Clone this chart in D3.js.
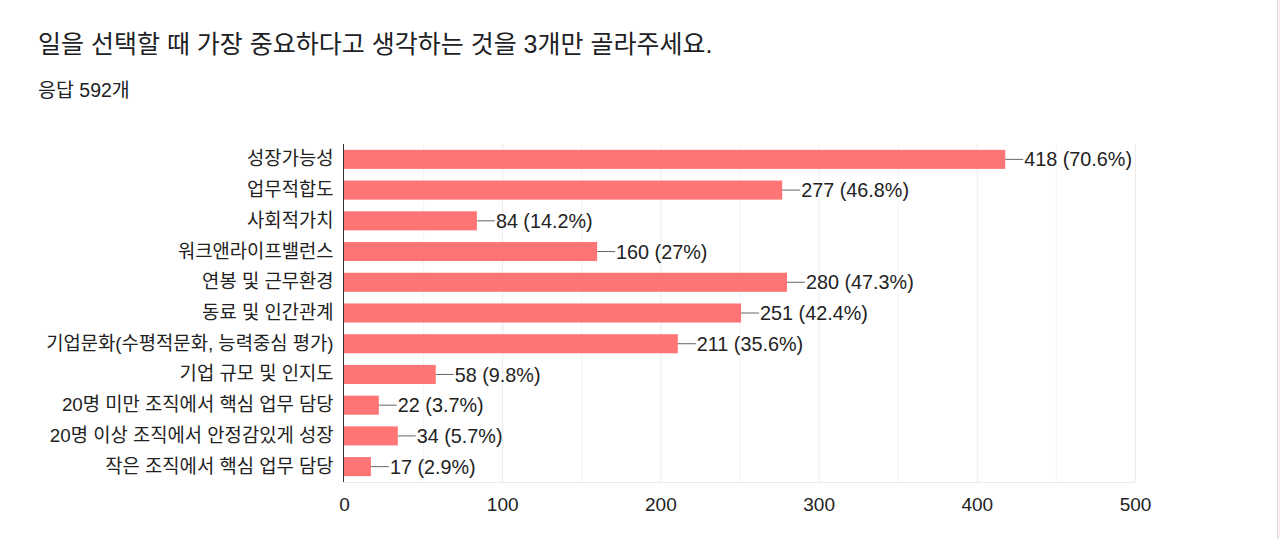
<!DOCTYPE html>
<html>
<head>
<meta charset="utf-8">
<script src="https://cdn.jsdelivr.net/npm/d3@7"></script>
<style>
  body{margin:0;background:#fff;}
  svg{display:block;}
  text{font-family:"Liberation Sans","Noto Sans CJK KR",Arial,sans-serif;}
</style>
</head>
<body>
<div id="chart"></div>
<script>
// données
var categories=["성장가능성","업무적합도","사회적가치","워크앤라이프밸런스","연봉 및 근무환경","동료 및 인간관계","기업문화(수평적문화, 능력중심 평가)","기업 규모 및 인지도","20명 미만 조직에서 핵심 업무 담당","20명 이상 조직에서 안정감있게 성장","작은 조직에서 핵심 업무 담당"];
var counts=[418,277,84,160,280,251,211,58,22,34,17];
var percents=["70.6%","46.8%","14.2%","27%","47.3%","42.4%","35.6%","9.8%","3.7%","5.7%","2.9%"];
var ticks=[0,100,200,300,400,500];
var minorTicks=[50,150,250,350,450];

var title="일을 선택할 때 가장 중요하다고 생각하는 것을 3개만 골라주세요.";
var subtitle="응답 592개";

var width=1280,height=539;
var margin={left:344,right:145,top:144,bottom:57};

var svg=d3.select("#chart").append("svg")
  .attr("width",width).attr("height",height);

// bord de la carte
svg.append("line")
  .attr("x1",1277.5).attr("x2",1277.5).attr("y1",0).attr("y2",height)
  .attr("stroke","#dadce0").attr("stroke-width",1);
svg.append("rect").attr("x",1278).attr("y",0).attr("width",2).attr("height",height)
  .attr("fill","#fdeeee");

svg.append("text").attr("x",38).attr("y",53)
  .attr("font-size",25).attr("fill","#202124").text(title);
svg.append("text").attr("x",38).attr("y",97)
  .attr("font-size",19.5).attr("fill","#202124").text(subtitle);

var x=d3.scaleLinear().domain([0,500]).range([margin.left,width-margin.right]);
var y=d3.scaleBand().domain(categories)
  .range([margin.top,height-margin.bottom]).paddingInner(0.38).paddingOuter(0.19);

var g=svg.append("g");

// grille
g.selectAll(".minor").data(minorTicks).enter().append("line")
  .attr("x1",function(d){return x(d)+0.5;}).attr("x2",function(d){return x(d)+0.5;})
  .attr("y1",margin.top).attr("y2",height-margin.bottom)
  .attr("stroke","#f3f3f3");
g.selectAll(".major").data(ticks.slice(1)).enter().append("line")
  .attr("x1",function(d){return x(d)+0.5;}).attr("x2",function(d){return x(d)+0.5;})
  .attr("y1",margin.top).attr("y2",height-margin.bottom)
  .attr("stroke","#ebebeb");
g.append("line")
  .attr("x1",margin.left).attr("x2",x(500))
  .attr("y1",height-margin.bottom+0.5).attr("y2",height-margin.bottom+0.5)
  .attr("stroke","#ebebeb");

// barres
g.selectAll(".bar").data(counts).enter().append("rect")
  .attr("x",x(0))
  .attr("y",function(d,i){return y(categories[i]);})
  .attr("width",function(d){return x(d)-x(0);})
  .attr("height",y.bandwidth())
  .attr("fill","#ff7474");

// lignes et étiquettes
g.selectAll(".lead").data(counts).enter().append("line")
  .attr("x1",function(d){return x(d);})
  .attr("x2",function(d){return x(d)+18;})
  .attr("y1",function(d,i){return y(categories[i])+y.bandwidth()/2;})
  .attr("y2",function(d,i){return y(categories[i])+y.bandwidth()/2;})
  .attr("stroke","#666").attr("stroke-width",1);
g.selectAll(".val").data(counts).enter().append("text")
  .attr("x",function(d){return x(d)+19;})
  .attr("y",function(d,i){return y(categories[i])+y.bandwidth()/2;})
  .attr("dy","0.36em")
  .attr("font-size",19.8).attr("fill","#222")
  .text(function(d,i){return d+" ("+percents[i]+")";});

// axe y
var yAxis=d3.axisLeft(y).tickSize(0).tickPadding(10);
var ya=svg.append("g").attr("transform","translate("+(margin.left-0.5)+",0)").call(yAxis);
ya.select(".domain").attr("stroke","#333").attr("d","M0,"+margin.top+"V"+(height-margin.bottom));
ya.selectAll("text").attr("font-size",18.8).attr("fill","#222")
  .style("font-family",'"Liberation Sans","Noto Sans CJK KR",sans-serif');

// axe x
var xAxis=d3.axisBottom(x).tickValues(ticks).tickSize(0).tickPadding(16);
var xa=svg.append("g").attr("transform","translate(0,"+(height-margin.bottom)+")").call(xAxis);
xa.select(".domain").remove();
xa.selectAll("text").attr("font-size",19).attr("fill","#222")
  .style("font-family",'"Liberation Sans",Arial,sans-serif');
</script>
</body>
</html>
